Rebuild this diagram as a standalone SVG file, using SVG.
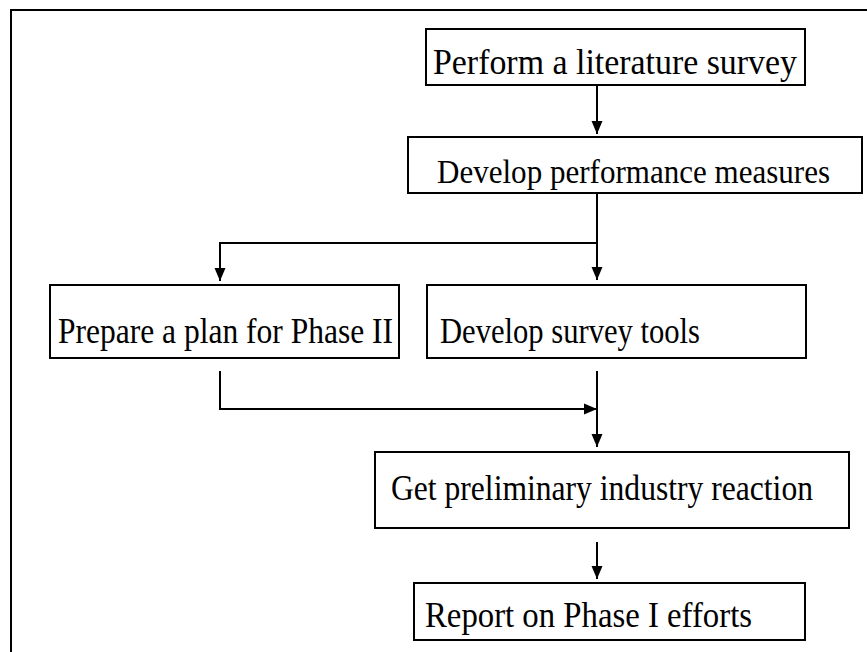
<svg xmlns="http://www.w3.org/2000/svg" width="867" height="652" viewBox="0 0 867 652">
<defs>
<style>
.box{fill:#fff;stroke:#000;stroke-width:2}
.lbl{font-family:"Liberation Serif","Times New Roman",serif;font-size:35px;fill:#000}
.ln{fill:none;stroke:#000;stroke-width:2}
</style>
<marker id="ah" markerWidth="13" markerHeight="12" refX="13" refY="6" orient="auto" markerUnits="userSpaceOnUse"><path d="M0,0.5 L13,6 L0,11.5 Z" fill="#000"/></marker>
</defs>
<rect width="867" height="652" fill="#fff"/>
<path id="frame" class="ln" d="M11,652 V10 H867" stroke-width="2.5"/>
<g id="n1"><rect class="box" x="426" y="29" width="379" height="56"/><text class="lbl" x="433" y="74" textLength="364" lengthAdjust="spacingAndGlyphs">Perform a literature survey</text></g>
<g id="n2"><rect class="box" x="408" y="137" width="454" height="56"/><text class="lbl" x="437" y="183" style="font-size:33px" textLength="393" lengthAdjust="spacingAndGlyphs">Develop performance measures</text></g>
<g id="n3"><rect class="box" x="50" y="285" width="349" height="73"/><text class="lbl" x="58" y="343" textLength="335" lengthAdjust="spacingAndGlyphs">Prepare a plan for Phase II</text></g>
<g id="n4"><rect class="box" x="427" y="285" width="379" height="73"/><text class="lbl" x="440" y="343" textLength="260" lengthAdjust="spacingAndGlyphs">Develop survey tools</text></g>
<g id="n5"><rect class="box" x="375" y="452" width="474" height="76"/><text class="lbl" x="391" y="500" textLength="422" lengthAdjust="spacingAndGlyphs">Get preliminary industry reaction</text></g>
<g id="n6"><rect class="box" x="414" y="583" width="391" height="57"/><text class="lbl" x="425" y="627" textLength="327" lengthAdjust="spacingAndGlyphs">Report on Phase I efforts</text></g>
<g id="connectors">
<path class="ln" d="M597,86 V134" marker-end="url(#ah)"/>
<path class="ln" d="M597,194 V280" marker-end="url(#ah)"/>
<path class="ln" d="M597,243 H220 V281" marker-end="url(#ah)"/>
<path class="ln" d="M220,371 V409 H597" marker-end="url(#ah)"/>
<path class="ln" d="M597,371 V447" marker-end="url(#ah)"/>
<path class="ln" d="M597,542 V579" marker-end="url(#ah)"/>
</g>
</svg>
